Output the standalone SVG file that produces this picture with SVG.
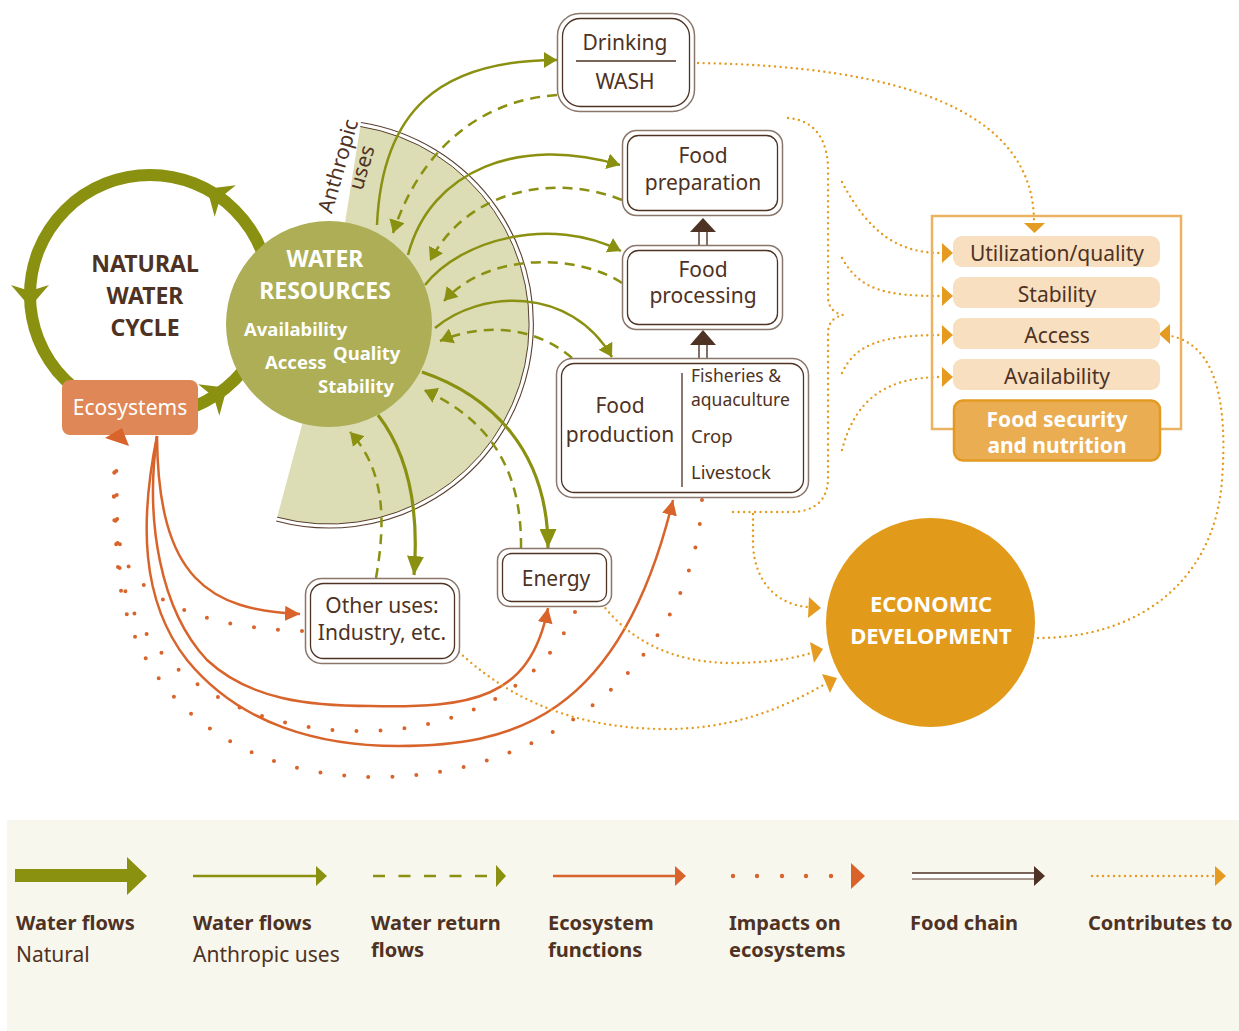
<svg xmlns="http://www.w3.org/2000/svg" width="1239" height="1031" viewBox="0 0 1239 1031">
<defs>
<style>
text{font-family:"Noto Sans","Liberation Sans",sans-serif;fill:#4e3223;font-size:21px}
.b{font-weight:700}
.w{fill:#fff}
.m{text-anchor:middle}
.box1{fill:#fff;stroke:#8a766a;stroke-width:1.5}
.box2{fill:none;stroke:#4e3223;stroke-width:1.3}
.ol{fill:none;stroke:#8a9010;stroke-width:2.5}
.olt{fill:none;stroke:#8a9010;stroke-width:3.2}
.od{fill:none;stroke:#8a9010;stroke-width:2.5;stroke-dasharray:10 7}
.eo{fill:none;stroke:#d8642b;stroke-width:2.5}
.im{fill:none;stroke:#d8642b;stroke-width:4;stroke-linecap:round;stroke-dasharray:0 24}
.ct{fill:none;stroke:#e49b1f;stroke-width:2.4;stroke-linecap:round;stroke-dasharray:0 5.5}
.cth{fill:#e49b1f}
.pill{fill:#f8dfbf}
.lg{font-size:20px;font-weight:700}
.sm{font-size:18.5px}
.xs{font-size:17.5px}
</style>
<marker id="mO" viewBox="0 0 10 10" refX="10" refY="5" markerWidth="13" markerHeight="16" markerUnits="userSpaceOnUse" orient="auto" preserveAspectRatio="none"><path d="M0,0L10,5L0,10z" fill="#8a9010"/></marker>
<marker id="mOT" viewBox="0 0 10 10" refX="10" refY="5" markerWidth="19" markerHeight="17" markerUnits="userSpaceOnUse" orient="auto" preserveAspectRatio="none"><path d="M0,0L10,5L0,10z" fill="#8a9010"/></marker>
<marker id="mE" viewBox="0 0 10 10" refX="10" refY="5" markerWidth="15" markerHeight="15" markerUnits="userSpaceOnUse" orient="auto" preserveAspectRatio="none"><path d="M0,0L10,5L0,10z" fill="#d8642b"/></marker>
<polygon id="ringHead" points="12,0 -10,-19 -4,0 -10,19" fill="#8a9010"/>
</defs>

<rect width="1239" height="1031" fill="#fff"/>

<g id="anthropic-uses">
<path d="M329,324 L360.3,126.5 A200,200 0 1 1 277.2,517.2 Z" fill="#dcdcb5"/>
<path d="M360.3,126.5 A200,200 0 1 1 277.2,517.2" fill="none" stroke="#5a4030" stroke-width="1"/>
<path d="M360.9,122.5 A204,204 0 1 1 276.2,521" fill="none" stroke="#5a4030" stroke-width="1.1"/>
<text transform="translate(345,168) rotate(-74)" class="m">Anthropic</text>
<text transform="translate(345,168) rotate(-74)" x="5" y="23" class="m">uses</text>
</g>

<g id="natural-water-cycle">
<circle cx="150" cy="295" r="120" fill="none" stroke="#8a9010" stroke-width="12"/>
<use href="#ringHead" transform="translate(30,295) rotate(90)"/>
<use href="#ringHead" transform="translate(217,195.5) rotate(-146)"/>
<use href="#ringHead" transform="translate(217,394.5) rotate(-34)"/>
<text x="145" y="272" class="b m" style="font-size:23px">NATURAL</text>
<text x="145" y="304" class="b m" style="font-size:23px">WATER</text>
<text x="145" y="336" class="b m" style="font-size:23px">CYCLE</text>
</g>

<g id="water-resources">
<circle cx="329" cy="324" r="103" fill="#adae55"/>
<text x="325" y="267" class="b m w" style="font-size:23px">WATER</text>
<text x="325" y="299" class="b m w" style="font-size:23px">RESOURCES</text>
<text x="244" y="336" class="b w" style="font-size:18.5px">Availability</text>
<text x="333" y="360" class="b w" style="font-size:18.5px">Quality</text>
<text x="265" y="369" class="b w" style="font-size:18.5px">Access</text>
<text x="318" y="393" class="b w" style="font-size:18.5px">Stability</text>
</g>

<g id="ecosystems">
<rect x="62" y="380" width="136" height="55" rx="8" fill="#df8756"/>
<text x="130" y="415" class="m w">Ecosystems</text>
</g>

<g id="connectors">
<path class="ol" d="M377,225 C382,110 440,60 557,60" marker-end="url(#mO)"/>
<path class="od" d="M557,95 C480,100 420,150 393,233" marker-end="url(#mO)"/>
<path class="ol" d="M408,255 C430,170 520,135 620,165" marker-end="url(#mO)"/>
<path class="od" d="M622,200 C560,175 470,185 430,261" marker-end="url(#mO)"/>
<path class="ol" d="M425,285 C460,240 550,215 621,251" marker-end="url(#mO)"/>
<path class="od" d="M622,283 C580,255 490,250 444,301" marker-end="url(#mO)"/>
<path class="ol" d="M435,328 C480,290 570,285 612,357" marker-end="url(#mO)"/>
<path class="od" d="M572,358 C540,330 490,320 440,341" marker-end="url(#mO)"/>
<path class="olt" d="M422,372 C490,395 548,450 548,548" marker-end="url(#mOT)"/>
<path class="od" d="M521,548 C522,470 490,420 424,390" marker-end="url(#mO)"/>
<path class="olt" d="M378,415 C405,450 420,500 414,575" marker-end="url(#mOT)"/>
<path class="od" d="M376,578 C386,520 385,470 350,432" marker-end="url(#mO)"/>

<g id="food-chain">
<line x1="699" y1="231" x2="699" y2="245" stroke="#4e3223" stroke-width="1.4"/>
<line x1="707" y1="231" x2="707" y2="245" stroke="#4e3223" stroke-width="1.4"/>
<polygon points="690,232 716,232 703,218" fill="#4e3223"/>
<line x1="699" y1="344" x2="699" y2="358" stroke="#4e3223" stroke-width="1.4"/>
<line x1="707" y1="344" x2="707" y2="358" stroke="#4e3223" stroke-width="1.4"/>
<polygon points="690,345 716,345 703,330" fill="#4e3223"/>
</g>

<path class="im" d="M302,631 C220,628 150,610 125,560 C113,530 112,490 116,450"/>
<path class="im" d="M575,612 C540,690 460,731 360,731 C240,731 150,670 125,590 C113,550 112,500 116,450"/>
<path class="im" d="M702,500 C695,650 560,777 376,777 C230,777 130,690 118,570 L116,450"/>
<polygon points="105,438 122,428 129,446" fill="#d8642b"/>

<path class="eo" d="M157,436 C158,580 210,610 300,614" marker-end="url(#mE)"/>
<path class="eo" d="M157,436 C145,520 160,610 207,660 C250,700 310,706 371,706 C470,708 530,700 548,608" marker-end="url(#mE)"/>
<path class="eo" d="M157,436 C140,520 140,600 187,660 C240,725 320,746 398,746 C510,746 620,720 673,500" marker-end="url(#mE)"/>

<path class="ct" d="M698,63 C900,66 1034,110 1034,222"/>
<polygon class="cth" points="1024,223 1045,223 1034.5,233"/>
<path class="ct" d="M788,118 C815,120 828,140 828,170 L828,298 Q829,312 843,315 Q829,318 828,332 L828,478 C828,500 815,512 790,512 L733,512"/>
<path class="ct" d="M753,514 L753,545 C755,585 780,605 808,607"/>
<polygon class="cth" points="809,597 821,608 808,618"/>
<path class="ct" d="M602,604 C630,640 670,662 730,663 C770,663 795,658 811,653"/>
<polygon class="cth" points="810,642 823,649 814,663"/>
<path class="ct" d="M459,652 C500,690 560,727 660,729 C730,730 780,710 825,684"/>
<polygon class="cth" points="822,674 837,678 830,693"/>
<path class="ct" d="M842,182 C870,235 900,253 942,253"/>
<polygon class="cth" points="942,243 953,253 942,263"/>
<path class="ct" d="M842,258 C860,290 885,296 942,296"/>
<polygon class="cth" points="942,286 953,296 942,306"/>
<path class="ct" d="M842,373 C855,345 880,335 942,335"/>
<polygon class="cth" points="942,325 953,335 942,345"/>
<path class="ct" d="M842,450 C855,400 885,377 942,377"/>
<polygon class="cth" points="942,367 953,377 942,387"/>
<path class="ct" d="M1038,638 C1140,638 1215,580 1222,480 C1228,400 1215,345 1171,336"/>
<polygon class="cth" points="1159,334 1170,324 1170,344"/>
</g>

<g id="drinking-wash">
<rect class="box1" x="557.5" y="13.5" width="137" height="98" rx="22"/>
<rect class="box2" x="562.5" y="18.5" width="127" height="88" rx="18"/>
<text x="625" y="50" class="m">Drinking</text>
<line x1="576" y1="61" x2="676" y2="61" stroke="#4e3223" stroke-width="1.3"/>
<text x="625" y="89" class="m">WASH</text>
</g>

<g id="food-preparation">
<rect class="box1" x="622.5" y="130.5" width="160" height="85" rx="14"/>
<rect class="box2" x="627.5" y="135.5" width="150" height="75" rx="11"/>
<text x="703" y="163" class="m">Food</text>
<text x="703" y="190" class="m">preparation</text>
</g>

<g id="food-processing">
<rect class="box1" x="622.5" y="245.5" width="160" height="84" rx="14"/>
<rect class="box2" x="627.5" y="250.5" width="150" height="74" rx="11"/>
<text x="703" y="277" class="m">Food</text>
<text x="703" y="303" class="m">processing</text>
</g>

<g id="food-production">
<rect class="box1" x="556.5" y="358.5" width="252" height="139" rx="16"/>
<rect class="box2" x="561.5" y="363.5" width="242" height="129" rx="13"/>
<line x1="682" y1="373" x2="682" y2="487" stroke="#4e3223" stroke-width="1.3"/>
<text x="620" y="413" class="m">Food</text>
<text x="620" y="442" class="m">production</text>
<text x="691" y="382" class="xs">Fisheries &amp;</text>
<text x="691" y="406" class="xs">aquaculture</text>
<text x="691" y="443" class="sm">Crop</text>
<text x="691" y="479" class="sm">Livestock</text>
</g>

<g id="other-uses">
<rect class="box1" x="305.5" y="578.5" width="154" height="85" rx="16"/>
<rect class="box2" x="310.5" y="583.5" width="144" height="75" rx="13"/>
<text x="382" y="613" class="m">Other uses:</text>
<text x="382" y="640" class="m">Industry, etc.</text>
</g>

<g id="energy">
<rect class="box1" x="497.5" y="548.5" width="114" height="58" rx="12"/>
<rect class="box2" x="502.5" y="553.5" width="104" height="48" rx="9"/>
<text x="556" y="586" class="m">Energy</text>
</g>

<g id="food-security">
<rect x="932" y="216" width="249" height="213" fill="none" stroke="#ebb261" stroke-width="2.5"/>
<rect class="pill" x="953" y="236" width="207" height="31" rx="9"/>
<text x="1057" y="261" class="m">Utilization/quality</text>
<rect class="pill" x="953" y="277" width="207" height="31" rx="9"/>
<text x="1057" y="302" class="m">Stability</text>
<rect class="pill" x="953" y="318" width="207" height="31" rx="9"/>
<text x="1057" y="343" class="m">Access</text>
<rect class="pill" x="953" y="359" width="207" height="31" rx="9"/>
<text x="1057" y="384" class="m">Availability</text>
<rect x="954" y="400.5" width="206" height="60" rx="9" fill="#ebad52" stroke="#e39a20" stroke-width="2.5"/>
<text x="1057" y="427" class="m w b">Food security</text>
<text x="1057" y="453" class="m w b">and nutrition</text>
</g>

<g id="economic-development">
<circle cx="930.5" cy="622.5" r="104.5" fill="#e29a1b"/>
<text x="931" y="612" class="m w b" style="font-size:22px">ECONOMIC</text>
<text x="931" y="644" class="m w b" style="font-size:22px">DEVELOPMENT</text>
</g>

<g id="legend">
<rect x="7" y="820" width="1232" height="211" fill="#f8f7ee"/>
<polygon points="15,869 127,869 127,857 147,876 127,895 127,882 15,882" fill="#8a9010"/>
<line x1="193" y1="876" x2="317" y2="876" stroke="#8a9010" stroke-width="2.5"/>
<polygon points="316,866 327,876 316,886" fill="#8a9010"/>
<line x1="373" y1="876" x2="497" y2="876" stroke="#8a9010" stroke-width="2.5" stroke-dasharray="12 13.5"/>
<polygon points="496,865 506,876 496,887" fill="#8a9010"/>
<line x1="553" y1="876" x2="676" y2="876" stroke="#d8642b" stroke-width="2.5"/>
<polygon points="675,866 686,876 675,886" fill="#d8642b"/>
<g fill="#d8642b"><circle cx="733" cy="876" r="2.2"/><circle cx="757" cy="876" r="2.2"/><circle cx="782" cy="876" r="2.2"/><circle cx="806" cy="876" r="2.2"/><circle cx="831" cy="876" r="2.2"/></g>
<polygon points="851,863 865,876 851,889" fill="#d8642b"/>
<rect x="912" y="873" width="123" height="6" fill="#fff"/>
<line x1="912" y1="873" x2="1036" y2="873" stroke="#4e3223" stroke-width="1.4"/>
<line x1="912" y1="879" x2="1036" y2="879" stroke="#8a766a" stroke-width="1.4"/>
<polygon points="1034,866 1045,876 1034,886" fill="#4e3223"/>
<line x1="1092" y1="876" x2="1214" y2="876" class="ct"/>
<polygon points="1215,866 1226,876 1215,886" fill="#e49b1f"/>
<text x="16" y="930" class="lg">Water flows</text>
<text x="16" y="962">Natural</text>
<text x="193" y="930" class="lg">Water flows</text>
<text x="193" y="962">Anthropic uses</text>
<text x="371" y="930" class="lg">Water return</text>
<text x="371" y="957" class="lg">flows</text>
<text x="548" y="930" class="lg">Ecosystem</text>
<text x="548" y="957" class="lg">functions</text>
<text x="729" y="930" class="lg">Impacts on</text>
<text x="729" y="957" class="lg">ecosystems</text>
<text x="910" y="930" class="lg">Food chain</text>
<text x="1088" y="930" class="lg">Contributes to</text>
</g>
</svg>
